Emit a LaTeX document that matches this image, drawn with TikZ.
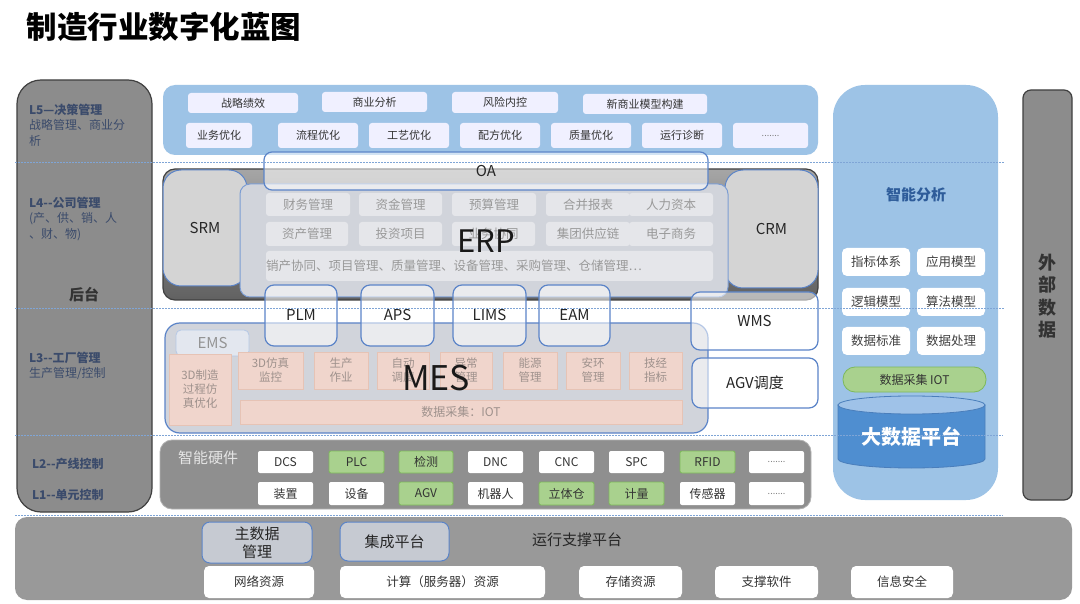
\documentclass[tikz,border=0pt]{standalone}
\usepackage{fontspec}
\setmainfont{Noto Sans CJK SC}
\usetikzlibrary{shapes.geometric}
\definecolor{pblue}{HTML}{9DC3E6}
\definecolor{bord}{HTML}{5B84C8}
\definecolor{lbl}{HTML}{3B4B6B}
\definecolor{grn}{HTML}{A9D18E}
\definecolor{grnd}{HTML}{7DB95A}
\definecolor{dline}{HTML}{7FA5D6}
\definecolor{erpsub}{HTML}{E5E6EA}
\definecolor{panelg}{HTML}{D1D4DB}
\definecolor{mesfill}{HTML}{F0D5CC}
\definecolor{mesbord}{HTML}{E6C3B5}
\definecolor{mestext}{HTML}{9E918C}
\definecolor{cylbody}{HTML}{4F8ED0}
\definecolor{cyltop}{HTML}{9FC2E8}
\definecolor{cylbord}{HTML}{4A7EBB}
\definecolor{iatext}{HTML}{2E5C9A}
\definecolor{platg}{HTML}{C6CAD2}
\definecolor{emsfill}{HTML}{E3E7EF}
\newcommand\dd{-\kern0pt-}
\newcommand\fs[1]{\fontsize{#1}{#1}\selectfont}
\newcommand\bx[7]{\node[#6,minimum width={#4-#2},minimum height={#5-#3}] (#1) at ({(#2+#4)/2},{(#3+#5)/2}) {#7};}
\tikzset{
  every node/.style={inner sep=0pt,outer sep=0pt},
  leftcol/.style={draw=black!75,line width=1.2pt,fill=black!45,rounded corners=24pt},
  lbltxt/.style={text=lbl,align=left,font=\fontsize{12}{15.5}\selectfont},
  bluep/.style={fill=pblue},
  wbox/.style={fill=white!94!blue,rounded corners=3pt,text=black!80,font=\fs{11}},
  erps/.style={fill=erpsub,rounded corners=3pt,text=black!40,font=\fs{12.5}},
  mess/.style={fill=mesfill,draw=mesbord,text=mestext,font=\fontsize{11.5}{14}\selectfont,align=center},
  ovl/.style={draw=bord,line width=1.2pt,fill=white,fill opacity=0.55,text opacity=1,rounded corners=9pt,font=\fs{15},text=black!85},
  grayp/.style={fill=black!17,draw=bord,line width=1pt},
  hww/.style={fill=white,rounded corners=2pt,font=\fs{12},text=black!80},
  hwg/.style={fill=grn,draw=grnd,line width=0.8pt,rounded corners=2pt,font=\fs{12},text=black!80},
  bw/.style={fill=white,rounded corners=5pt,font=\fs{12.5},text=black!80},
  platf/.style={fill=platg,draw=bord,line width=1pt,rounded corners=8pt,font=\fontsize{15}{18}\selectfont,align=center,text=black!85},
  smw/.style={fill=white,rounded corners=5pt,font=\fs{12.5},text=black!75},
  dl/.style={draw=dline,line width=0.9pt,dash pattern=on 1.5pt off 1.5pt}
}
\begin{document}
\begin{tikzpicture}[x=1pt,y=-1pt]
\useasboundingbox (0,0) rectangle (1080,604);
\fill[white] (0,0) rectangle (1080,604);
% title
\node[anchor=west,font=\fs{30.5}\bfseries] (title) at (27,27) {制造行业数字化蓝图};
% left column
\bx{left}{17}{80}{152}{512}{leftcol}{}
\node[lbltxt,anchor=north west] (l5) at (29,104) {{\bfseries L5—决策管理}\\战略管理、商业分\\析};
\node[lbltxt,anchor=north west] (l4) at (29,197) {{\bfseries L4\dd 公司管理}\\(产、供、销、人\\、财、物)};
\node[font=\fs{15}\bfseries,text=black!80] (houtai) at (84,295) {后台};
\node[lbltxt,anchor=north west] (l3) at (29,352) {{\bfseries L3\dd 工厂管理}\\生产管理/控制};
\node[lbltxt,anchor=west,font=\fs{12}\bfseries] (l2) at (32,464) {L2\dd 产线控制};
\node[lbltxt,anchor=west,font=\fs{12}\bfseries] (l1) at (32,495) {L1\dd 单元控制};
% L5 panel
\bx{l5p}{163}{85}{818}{155}{bluep,rounded corners=12pt}{}
\bx{a1}{188}{93}{298}{113}{wbox}{战略绩效}
\bx{a2}{322}{92}{427}{112}{wbox}{商业分析}
\bx{a3}{452}{92}{558}{113}{wbox}{风险内控}
\bx{a4}{583}{94}{707}{114}{wbox}{新商业模型构建}
\bx{b1}{186}{123}{252}{148}{wbox}{业务优化}
\bx{b2}{278}{123}{358}{148}{wbox}{流程优化}
\bx{b3}{369}{123}{449}{148}{wbox}{工艺优化}
\bx{b4}{460}{123}{540}{148}{wbox}{配方优化}
\bx{b5}{551}{123}{631}{148}{wbox}{质量优化}
\bx{b6}{642}{123}{722}{148}{wbox}{运行诊断}
\bx{b7}{733}{123}{808}{148}{wbox,text=black!50,font=\fs{9}}{.......}
% right panel
\bx{ia}{833}{85}{998}{500}{bluep,rounded corners=32pt}{}
\node[font=\fs{15}\bfseries,text=iatext] (iat) at (916,195) {智能分析};
\bx{c1}{842}{248}{910}{276}{smw}{指标体系}
\bx{c2}{917}{248}{985}{276}{smw}{应用模型}
\bx{c3}{842}{288}{910}{316}{smw}{逻辑模型}
\bx{c4}{917}{288}{985}{316}{smw}{算法模型}
\bx{c5}{842}{327}{910}{355}{smw}{数据标准}
\bx{c6}{917}{327}{985}{355}{smw}{数据处理}
\bx{iot}{843}{367}{986}{392}{fill=grn,draw=grnd,line width=0.8pt,rounded corners=12pt,font=\fs{12},text=black!80}{数据采集 IOT}
\fill[fill=cylbody,draw=cylbord,line width=0.8pt] (838,405) -- (838,459) arc[start angle=180,end angle=0,x radius=73.5,y radius=9] -- (985,405) -- cycle;
\draw[fill=cyltop,draw=cylbord,line width=0.8pt] (911.5,405) ellipse[x radius=73.5,y radius=9];
\node[font=\fs{20}\bfseries,text=white] (bigdata) at (911,437) {大数据平台};
% external data
\bx{ext}{1023}{90}{1072}{500}{fill=black!45,draw=black!75,line width=1.2pt,rounded corners=8pt}{}
\node[align=center,font=\fontsize{18}{22.4}\selectfont\bfseries,text=black!80] (extt) at (1047,296) {外\\部\\数\\据};
% ERP outer
\shade[top color=black!35,bottom color=black!62,draw=black!75,line width=1.2pt,rounded corners=12pt] (163,169) rectangle (818,300);
\coordinate (erpo) at (490,235);
\bx{srm}{163}{170}{247}{286}{grayp,rounded corners=18pt,font=\fs{15},text=black!85}{SRM}
\bx{crm}{725}{170}{818}{288}{grayp,rounded corners=18pt,font=\fs{15},text=black!85}{CRM}
\bx{erpi}{240}{184}{728}{297}{fill=panelg,draw=bord!80,line width=1pt,rounded corners=10pt}{}
\bx{e1}{266}{193}{350}{216}{erps}{财务管理}
\bx{e2}{359}{193}{442}{216}{erps}{资金管理}
\bx{e3}{452}{193}{536}{216}{erps}{预算管理}
\bx{e4}{546}{193}{630}{216}{erps}{合并报表}
\bx{e5}{629}{193}{713}{216}{erps}{人力资本}
\bx{f1}{266}{222}{348}{246}{erps}{资产管理}
\bx{f2}{359}{222}{442}{246}{erps}{投资项目}
\bx{f3}{452}{222}{535}{246}{erps}{业务协同}
\bx{f4}{546}{222}{630}{246}{erps}{集团供应链}
\bx{f5}{629}{222}{713}{246}{erps}{电子商务}
\bx{g1}{266}{251}{713}{281}{erps}{}
\node[anchor=west,text=black!40,font=\fs{12.5}] (g1t) at (266,266) {销产协同、项目管理、质量管理、设备管理、采购管理、仓储管理…};
\node[font=\fs{31},text=black!90] (erp) at (486,241) {ERP};
% MES
\bx{mes}{165}{323}{708}{433}{fill=panelg,draw=bord,line width=1.2pt,rounded corners=15pt}{}
\bx{ems}{176}{330}{249}{356}{fill=emsfill,draw=bord!45,line width=0.8pt,rounded corners=5pt,font=\fs{15},text=black!42}{EMS}
\bx{m0}{169}{354}{231}{425}{mess}{3D制造\\过程仿\\真优化}
\bx{m1}{238}{352}{303}{389}{mess}{3D仿真\\监控}
\bx{m2}{314}{352}{368}{389}{mess}{生产\\作业}
\bx{m3}{377}{352}{429}{389}{mess}{自动\\调度}
\bx{m4}{440}{352}{492}{389}{mess}{异常\\管理}
\bx{m5}{503}{352}{557}{389}{mess}{能源\\管理}
\bx{m6}{566}{352}{620}{389}{mess}{安环\\管理}
\bx{m7}{629}{352}{682}{389}{mess}{技经\\指标}
\bx{m8}{240}{400}{682}{424}{mess,font=\fs{12}}{数据采集：IOT}
\node[font=\fs{34},text=black!90] (mest) at (436,378) {MES};
% overlay boxes
\bx{oa}{264}{152}{708}{190}{ovl,rounded corners=8pt}{OA}
\bx{plm}{265}{285}{337}{346}{ovl}{PLM}
\bx{aps}{361}{285}{434}{346}{ovl}{APS}
\bx{lims}{453}{285}{526}{346}{ovl}{LIMS}
\bx{eam}{539}{285}{610}{346}{ovl}{EAM}
\bx{wms}{691}{292}{818}{350}{ovl}{WMS}
\bx{agv}{692}{358}{818}{408}{ovl}{AGV调度}
% hardware
\bx{hw}{160}{440}{811}{509}{fill=black!44,draw=black!30,line width=0.8pt,rounded corners=12pt}{}
\node[font=\fs{15},text=black!10] (hwt) at (208,458) {智能硬件};
\bx{h1}{258}{451}{313}{473}{hww}{DCS}
\bx{h2}{329}{451}{384}{473}{hwg}{PLC}
\bx{h3}{399}{451}{453}{473}{hwg}{检测}
\bx{h4}{468}{451}{523}{473}{hww}{DNC}
\bx{h5}{539}{451}{594}{473}{hww}{CNC}
\bx{h6}{609}{451}{664}{473}{hww}{SPC}
\bx{h7}{680}{451}{735}{473}{hwg}{RFID}
\bx{h8}{749}{451}{804}{473}{hww,text=black!50,font=\fs{9}}{.......}
\bx{k1}{258}{482}{313}{505}{hww}{装置}
\bx{k2}{329}{482}{384}{505}{hww}{设备}
\bx{k3}{399}{482}{453}{505}{hwg}{AGV}
\bx{k4}{468}{482}{523}{505}{hww}{机器人}
\bx{k5}{539}{482}{594}{505}{hwg}{立体仓}
\bx{k6}{609}{482}{664}{505}{hwg}{计量}
\bx{k7}{680}{482}{735}{505}{hww}{传感器}
\bx{k8}{749}{482}{804}{505}{hww,text=black!50,font=\fs{9}}{.......}
% base
\bx{base}{15}{517}{1072}{600}{fill=black!40,rounded corners=12pt}{}
\bx{mdm}{202}{522}{312}{563}{platf}{主数据\\管理}
\bx{intg}{340}{522}{449}{561}{platf}{集成平台}
\node[font=\fs{15},text=black!85] (runp) at (577,540) {运行支撑平台};
\bx{r1}{204}{566}{314}{598}{bw}{网络资源}
\bx{r2}{340}{566}{545}{598}{bw}{计算（服务器）资源}
\bx{r3}{579}{566}{682}{598}{bw}{存储资源}
\bx{r4}{715}{566}{818}{598}{bw}{支撑软件}
\bx{r5}{851}{566}{953}{598}{bw}{信息安全}
% dotted level lines
\coordinate (d1a) at (15,162); \coordinate (d1b) at (1005,162);
\coordinate (d2a) at (15,308); \coordinate (d2b) at (1005,308);
\coordinate (d3a) at (15,435); \coordinate (d3b) at (1003,435);
\coordinate (d4a) at (15,515); \coordinate (d4b) at (1003,515);
\draw[dl] (d1a) -- (d1b);
\draw[dl] (d2a) -- (d2b);
\draw[dl] (d3a) -- (d3b);
\draw[dl] (d4a) -- (d4b);
\end{tikzpicture}
\end{document}
